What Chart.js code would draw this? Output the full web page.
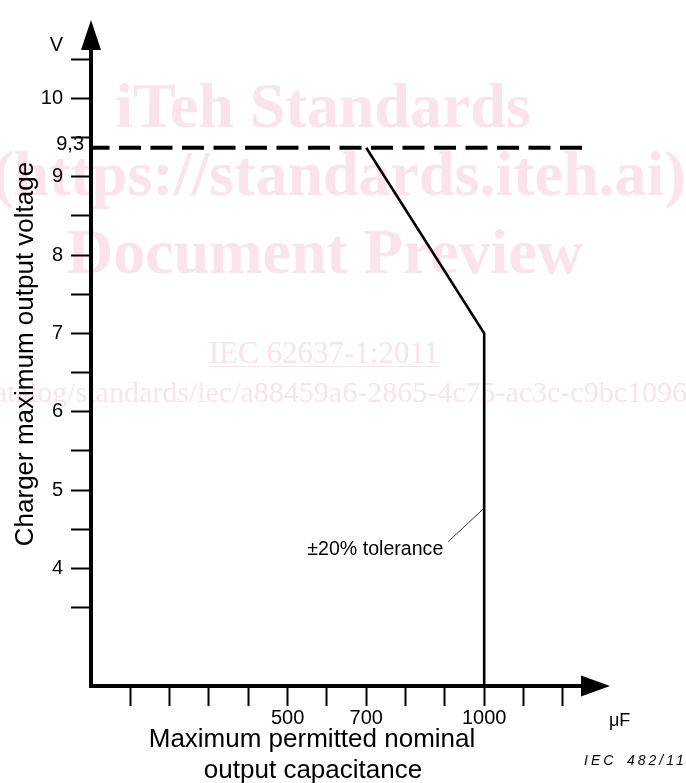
<!DOCTYPE html>
<html>
<head>
<meta charset="utf-8">
<script src="https://cdn.jsdelivr.net/npm/chart.js@4/dist/chart.umd.min.js"></script>
<style>
  html, body { margin: 0; padding: 0; background: #fff; }
</style>
</head>
<body>
<canvas id="chart" width="686" height="783"></canvas>
<script>
// values
const limitVoltage = 9.37;                 // dashed line marked "9,3"
const limitCap = [0, 1250];
const curveCap = [700, 1000, 1000];
const curveVolt = [limitVoltage, 7, 2.5];
const leaderCap = [908, 1000];
const leaderVolt = [4.34, 4.77];
const noteAnchor = [896, 4.17];            // right end / baseline of the note
const xTicks = [100, 200, 300, 400, 500, 600, 700, 800, 900, 1000, 1100, 1200];
const xLabels = [500, 700, 1000];
const yTicks = [3.5, 4, 4.5, 5, 5.5, 6, 6.5, 7, 7.5, 8, 8.5, 9, 9.5, 10, 10.5];
const yLabels = [4, 5, 6, 7, 8, 9, 10];

const SANS = '"Liberation Sans", Arial, sans-serif';
const SERIF = '"Liberation Serif", "Times New Roman", serif';

const figure = {
    id: 'figure',
    beforeDraw(chart) {
        // iTeh watermark behind the plot
        const ctx = chart.ctx;
        ctx.save();
        ctx.fillStyle = '#fae3ea';
        ctx.strokeStyle = '#fae3ea';
        ctx.textBaseline = 'alphabetic';
        ctx.textAlign = 'center';
        ctx.font = 'bold 64px ' + SERIF;
        ctx.fillText('iTeh Standards', 323, 127);
        ctx.fillText('(https://standards.iteh.ai)', 339, 195);
        ctx.fillText('Document Preview', 325, 273);
        ctx.font = '31px ' + SERIF;
        ctx.fillText('IEC 62637-1:2011', 324, 363);
        const w = ctx.measureText('IEC 62637-1:2011').width;
        ctx.lineWidth = 1;
        ctx.beginPath(); ctx.moveTo(324 - w / 2, 366.5); ctx.lineTo(324 + w / 2, 366.5); ctx.stroke();
        ctx.font = '30px ' + SERIF;
        ctx.textAlign = 'right';
        ctx.fillText('https://standards.iteh.ai/catalog/standards/iec/a88459a6-2865-4c75-ac3c-c9bc1096', 687, 402);
        ctx.restore();
    },
    afterDraw(chart) {
        const {ctx, chartArea: a, scales: {x, y}} = chart;
        ctx.save();
        ctx.fillStyle = '#000';
        ctx.strokeStyle = '#000';
        // axes with arrows
        ctx.lineWidth = 4;
        ctx.beginPath(); ctx.moveTo(a.left, a.bottom + 2); ctx.lineTo(a.left, a.top + 25); ctx.stroke();
        ctx.beginPath(); ctx.moveTo(a.left - 2, a.bottom); ctx.lineTo(a.right - 25, a.bottom); ctx.stroke();
        ctx.beginPath();
        ctx.moveTo(a.left, a.top); ctx.lineTo(a.left - 10, a.top + 30); ctx.lineTo(a.left + 10, a.top + 30);
        ctx.closePath(); ctx.fill();
        ctx.beginPath();
        ctx.moveTo(a.right, a.bottom); ctx.lineTo(a.right - 29, a.bottom - 10.5); ctx.lineTo(a.right - 29, a.bottom + 10.5);
        ctx.closePath(); ctx.fill();

        // units and the 9,3 mark
        ctx.font = '20px ' + SANS;
        ctx.textAlign = 'right';
        ctx.textBaseline = 'middle';
        ctx.fillText('V', 63, y.getPixelForValue(10.5) - 14);
        ctx.fillText('9,3', 84, y.getPixelForValue(limitVoltage) - 3);
        ctx.textAlign = 'left';
        ctx.textBaseline = 'alphabetic';
        ctx.font = '18px ' + SANS;
        ctx.fillText('μF', a.right - 1, a.bottom + 40);

        // axis titles
        ctx.font = '26px ' + SANS;
        ctx.textAlign = 'center';
        ctx.fillText('Maximum permitted nominal', 312, 747);
        ctx.fillText('output capacitance', 313, 778);
        ctx.save();
        ctx.translate(33, 354);
        ctx.rotate(-Math.PI / 2);
        ctx.fillText('Charger maximum output voltage', 0, 0);
        ctx.restore();

        // tolerance note
        ctx.font = '19.6px ' + SANS;
        ctx.textAlign = 'right';
        ctx.fillText('±20% tolerance', x.getPixelForValue(noteAnchor[0]), y.getPixelForValue(noteAnchor[1]));

        // figure number
        ctx.font = 'italic 14px ' + SANS;
        ctx.textAlign = 'left';
        ctx.letterSpacing = '3px';
        ctx.fillText('IEC', 584, 765);
        ctx.fillText('482/11', 627, 765);
        ctx.letterSpacing = '0px';
        ctx.restore();
    }
};

new Chart(document.getElementById('chart'), {
    type: 'line',
    data: {
        datasets: [
            {
                data: limitCap.map(c => ({x: c, y: limitVoltage})),
                borderColor: '#000', borderWidth: 4,
                borderDash: [22, 9.5], borderDashOffset: 3.5,
                pointRadius: 0, tension: 0
            },
            {
                data: curveCap.map((c, i) => ({x: c, y: curveVolt[i]})),
                borderColor: '#000', borderWidth: 2.6,
                pointRadius: 0, tension: 0
            },
            {
                data: leaderCap.map((c, i) => ({x: c, y: leaderVolt[i]})),
                borderColor: '#333', borderWidth: 1,
                pointRadius: 0, tension: 0
            }
        ]
    },
    options: {
        responsive: false,
        animation: false,
        layout: { padding: { top: 15, right: 76, left: 0, bottom: 0 } },
        plugins: { legend: { display: false }, tooltip: { enabled: false } },
        scales: {
            x: {
                type: 'linear', min: 0, max: 1320,
                afterBuildTicks: s => { s.ticks = xTicks.map(v => ({value: v})); },
                afterFit: s => { s.height = 97; },
                border: { display: false },
                grid: { drawOnChartArea: false, tickLength: 20, tickWidth: 2, tickColor: '#000' },
                ticks: {
                    autoSkip: false, maxRotation: 0, padding: 0, color: '#000',
                    font: { family: SANS, size: 20 },
                    callback: v => xLabels.includes(v) ? String(v) : ''
                }
            },
            y: {
                type: 'linear', min: 2.5, max: 11,
                afterBuildTicks: s => { s.ticks = yTicks.map(v => ({value: v})); },
                afterFit: s => { s.width = 91; },
                border: { display: false },
                grid: { drawOnChartArea: false, tickLength: 20, tickWidth: 2, tickColor: '#000' },
                ticks: {
                    autoSkip: false, padding: 8, color: '#000',
                    font: { family: SANS, size: 20 },
                    callback: v => yLabels.includes(v) ? String(v) : ''
                }
            }
        }
    },
    plugins: [figure]
});
</script>
</body>
</html>
